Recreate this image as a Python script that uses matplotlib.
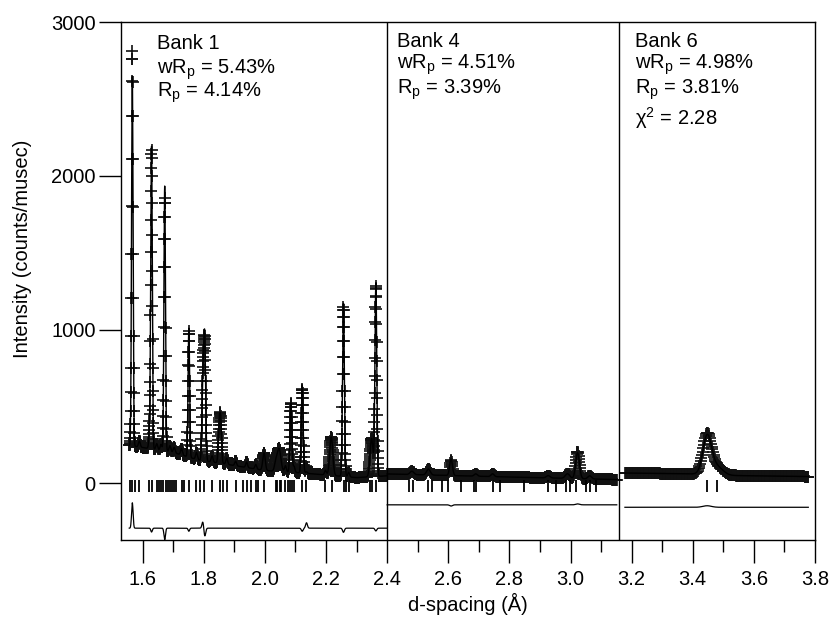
import numpy as np
import matplotlib.pyplot as plt

plt.rcParams['font.family'] = ['Liberation Sans', 'DejaVu Sans']
plt.rcParams['mathtext.fontset'] = 'custom'
plt.rcParams['mathtext.rm'] = 'Liberation Sans'
plt.rcParams['mathtext.it'] = 'Liberation Sans:italic'

# ---- Bank 1 ----
b1_d = (1.556, 2.400, 0.0005)          # start, end, step of d grid
b1_bg_d = [1.556, 1.60, 1.70, 1.78, 1.89, 2.00, 2.11, 2.22, 2.30, 2.40]
b1_bg_I = [245, 232, 200, 152, 118, 82, 68, 50, 36, 48]
b1_pk_d = [1.566, 1.589, 1.624, 1.629, 1.646, 1.660, 1.672, 1.689, 1.703, 1.727,
           1.751, 1.776, 1.797, 1.803, 1.827, 1.850, 1.855, 1.875, 1.904, 1.940,
           1.970, 1.997, 2.035, 2.046, 2.067, 2.085, 2.095, 2.122, 2.136, 2.198,
           2.217, 2.257, 2.274, 2.349, 2.363]
b1_pk_h = [2570, 40, 180, 1900, 40, 40, 1650, 40, 35, 40,
           820, 45, 550, 720, 40, 200, 260, 40, 30, 35,
           30, 115, 50, 150, 40, 450, 40, 550, 45, 30,
           250, 1100, 30, 250, 1235]
b1_pk_w = [0.0025, 0.003, 0.003, 0.0025, 0.003, 0.003, 0.0025, 0.003, 0.003, 0.003,
           0.0025, 0.003, 0.003, 0.003, 0.003, 0.003, 0.003, 0.003, 0.003, 0.003,
           0.003, 0.004, 0.004, 0.006, 0.003, 0.003, 0.003, 0.003, 0.003, 0.003,
           0.005, 0.003, 0.003, 0.005, 0.003]
b1_fit_d = [1.566, 1.629, 1.672, 1.751, 1.797, 1.803, 2.122, 2.136, 2.257, 2.363]
b1_fit_v = [165, -25, -75, -20, 45, -55, -20, 35, -27, -18]   # obs - calc
b1_ticks = [1.559, 1.566, 1.574, 1.589, 1.622, 1.629, 1.646, 1.653, 1.660, 1.667,
            1.675, 1.682, 1.689, 1.696, 1.703, 1.710, 1.727, 1.735, 1.751, 1.776,
            1.787, 1.800, 1.827, 1.853, 1.863, 1.875, 1.904, 1.929, 1.940, 1.954,
            1.970, 1.978, 1.997, 2.035, 2.041, 2.048, 2.054, 2.067, 2.074, 2.081,
            2.088, 2.095, 2.122, 2.136, 2.198, 2.220, 2.259, 2.266, 2.274, 2.343,
            2.350, 2.362]
b1_diff0 = -293

# ---- Bank 4 ----
b4_d = (2.400, 3.152, 0.0012)
b4_bg_d = [2.40, 2.60, 2.84, 3.00, 3.152]
b4_bg_I = [60, 50, 38, 31, 23]
b4_pk_d = [2.481, 2.535, 2.609, 2.690, 2.745, 2.927, 2.990, 3.023, 3.063]
b4_pk_h = [22, 38, 100, 15, 18, 15, 30, 175, 20]
b4_pk_w = [0.006, 0.006, 0.0045, 0.005, 0.005, 0.006, 0.007, 0.006, 0.006]
b4_fit_d = [2.609, 3.023]
b4_fit_v = [-8, 6]
b4_ticks = [2.470, 2.483, 2.532, 2.548, 2.580, 2.600, 2.640, 2.683, 2.690, 2.745,
            2.768, 2.847, 2.925, 2.954, 2.986, 2.997, 3.019, 3.052, 3.065, 3.084]
b4_diff0 = -141

# ---- Bank 6 ----
b6_d = (3.178, 3.778, 0.002)
b6_bg_d = [3.178, 3.40, 3.52, 3.778]
b6_bg_I = [66, 60, 50, 43]
b6_pk_d = [3.447, 3.478]
b6_pk_h = [255, 55]
b6_pk_w = [0.014, 0.02]
b6_fit_d = [3.447]
b6_fit_v = [10]
b6_ticks = [3.445, 3.480]
b6_diff0 = -157

banks = [
    (b1_d, b1_bg_d, b1_bg_I, b1_pk_d, b1_pk_h, b1_pk_w, b1_fit_d, b1_fit_v, b1_ticks, b1_diff0),
    (b4_d, b4_bg_d, b4_bg_I, b4_pk_d, b4_pk_h, b4_pk_w, b4_fit_d, b4_fit_v, b4_ticks, b4_diff0),
    (b6_d, b6_bg_d, b6_bg_I, b6_pk_d, b6_pk_h, b6_pk_w, b6_fit_d, b6_fit_v, b6_ticks, b6_diff0),
]

labels = [
    (1.646, [2824, 2668, 2516], ['Bank 1', 'wR$_\\mathrm{p}$ = 5.43%', 'R$_\\mathrm{p}$ = 4.14%']),
    (2.431, [2841, 2701, 2538], ['Bank 4', 'wR$_\\mathrm{p}$ = 4.51%', 'R$_\\mathrm{p}$ = 3.39%']),
    (3.211, [2841, 2701, 2538, 2331], ['Bank 6', 'wR$_\\mathrm{p}$ = 4.98%', 'R$_\\mathrm{p}$ = 3.81%',
                                       'χ$^\\mathrm{2}$ = 2.28']),
]
bank_edges = [2.4, 3.16]


def profile(d, bg_d, bg_I, pk_d, pk_h, pk_w):
    y = np.interp(d, bg_d, bg_I)
    for c, h, w in zip(pk_d, pk_h, pk_w):
        y = y + h * np.exp(-0.5 * ((d - c) / w) ** 2)
    return y


fig = plt.figure(figsize=(8.3, 6.19), dpi=100)
ax = fig.add_axes([120.7 / 830, 1 - 540 / 619, 694.3 / 830, 517.7 / 619])

for rng, bg_d, bg_I, pk_d, pk_h, pk_w, fit_d, fit_v, ticks, diff0 in banks:
    d = np.arange(*rng)
    calc_h = list(pk_h)
    for fd, fv in zip(fit_d, fit_v):
        i = pk_d.index(fd)
        calc_h[i] = pk_h[i] - fv
    obs = profile(d, bg_d, bg_I, pk_d, pk_h, pk_w)
    calc = profile(d, bg_d, bg_I, pk_d, calc_h, pk_w)
    ax.plot(d, obs, '+', color='#111111', ms=8, mew=1.2, zorder=2)
    ax.plot(d, calc, '-', color='black', lw=1.0, zorder=3)
    ax.plot(d, obs - calc + diff0, '-', color='black', lw=0.9)
    ax.vlines(ticks, -55, 20, color='black', lw=1.3)

for x in bank_edges:
    ax.axvline(x, color='black', lw=1.0)

for x, ys, txts in labels:
    for y, t in zip(ys, txts):
        ax.text(x, y, t, fontsize=14.5, va='baseline', ha='left')

ax.set_xlim(1.528, 3.8)
ax.set_ylim(-370, 3000)
ax.set_xticks([1.6, 1.8, 2.0, 2.2, 2.4, 2.6, 2.8, 3.0, 3.2, 3.4, 3.6, 3.8])
ax.set_xticks(np.arange(1.7, 3.8, 0.2), minor=True)
ax.set_yticks([0, 1000, 2000, 3000])
ax.tick_params(axis='both', which='both', direction='out', width=1.0,
               labelsize=14.5, top=False, right=False)
ax.tick_params(axis='x', which='major', length=16.5, pad=5)
ax.tick_params(axis='x', which='minor', length=8.5)
ax.tick_params(axis='y', which='major', length=16, pad=2)
for s in ax.spines.values():
    s.set_linewidth(1.0)

ax.set_xlabel('d-spacing (Å)', fontsize=14.5, va='baseline')
ax.xaxis.set_label_coords(0.5, (540 - 611) / 517.7)
ax.set_ylabel('Intensity (counts/musec)', fontsize=14.5, va='center')
ax.yaxis.set_label_coords((23 - 120.7) / 694.3, (540 - 249) / 517.7)

fig.savefig('out.png', dpi=100)
